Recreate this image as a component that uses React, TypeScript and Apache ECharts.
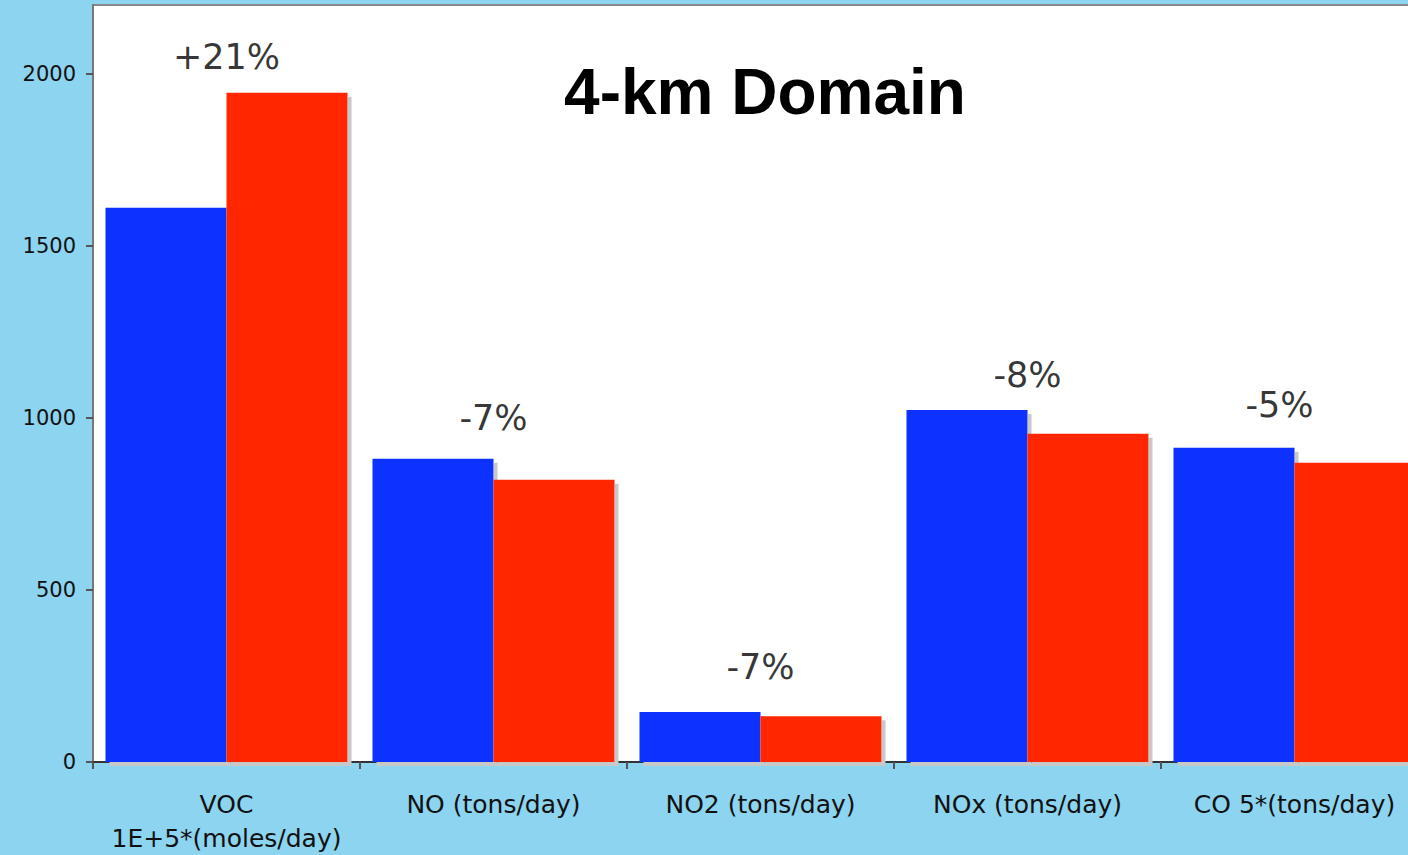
import React, { useEffect, useRef } from "react";
import * as echarts from "echarts";

const categories = ["VOC\n1E+5*(moles/day)", "NO (tons/day)", "NO2 (tons/day)", "NOx (tons/day)", "CO 5*(tons/day)"];
const baseValues = [1611, 881, 145, 1023, 913];
const newValues = [1945, 820, 133, 954, 870];
const changeLabels = ["+21%", "-7%", "-7%", "-8%", "-5%"];
const changeLabelY = [2049, 1000, 275, 1125, 1038];
const yTicks = [0, 500, 1000, 1500, 2000];

export default function App() {
  const ref = useRef<HTMLDivElement>(null);
  useEffect(() => {
    if (!ref.current) return;
    const chart = echarts.init(ref.current, null, { renderer: "svg" });
    const shadow = { shadowColor: "#c8c8c8", shadowOffsetX: 4, shadowOffsetY: 4, shadowBlur: 0 };
    chart.setOption({
      animation: false,
      backgroundColor: "#8DD4F0",
      title: {
        text: "4-km Domain",
        left: 760,
        top: 55,
        textAlign: "center",
        textStyle: { fontFamily: "Liberation Sans, Arial, sans-serif", fontWeight: "bold", fontSize: 64, color: "#000" },
      },
      grid: {
        left: 93,
        top: 5,
        width: 1335,
        height: 760,
        show: true,
        backgroundColor: "#ffffff",
        borderColor: "#888",
        borderWidth: 2,
      },
      xAxis: {
        type: "category",
        data: categories,
        axisLine: { lineStyle: { color: "#333", width: 2 } },
        axisTick: { show: true, length: 7, lineStyle: { color: "#555", width: 2 } },
        axisLabel: {
          margin: 25,
          fontFamily: "DejaVu Sans, Verdana, sans-serif",
          fontSize: 25,
          lineHeight: 34,
          color: "#111",
          interval: 0,
        },
      },
      yAxis: {
        type: "value",
        min: 0,
        max: 2200,
        interval: 500,
        splitLine: { show: false },
        axisLine: { show: true, lineStyle: { color: "#777", width: 2 } },
        axisTick: { show: true, length: 7, lineStyle: { color: "#555", width: 2 } },
        axisLabel: {
          margin: 17,
          showMaxLabel: false,
          fontFamily: "DejaVu Sans, Verdana, sans-serif",
          fontSize: 21,
          color: "#111",
          formatter: (v: number) => (yTicks.includes(v) ? String(v) : ""),
        },
      },
      series: [
        {
          type: "bar",
          data: baseValues,
          barWidth: 121,
          barGap: "0%",
          itemStyle: { color: "#0D30FF", ...shadow },
        },
        {
          type: "bar",
          data: newValues,
          barWidth: 121,
          barGap: "0%",
          itemStyle: { color: "#FF2800", ...shadow },
        },
        {
          type: "scatter",
          symbolSize: 0,
          z: 10,
          data: changeLabelY.map((y, i) => ({
            value: [i, y],
            label: { offset: i === 4 ? [-15, 0] : [0, 0] },
          })),
          label: {
            show: true,
            position: "inside",
            fontFamily: "DejaVu Sans, Verdana, sans-serif",
            fontSize: 35,
            color: "#000",
            formatter: (p: any) => changeLabels[p.dataIndex],
          },
        },
      ],
    });
    return () => chart.dispose();
  }, []);
  return (
    <div style={{ position: "fixed", left: 0, top: 0, width: 1408, height: 855, overflow: "hidden" }}>
      <div ref={ref} style={{ width: 1430, height: 855 }} />
    </div>
  );
}
